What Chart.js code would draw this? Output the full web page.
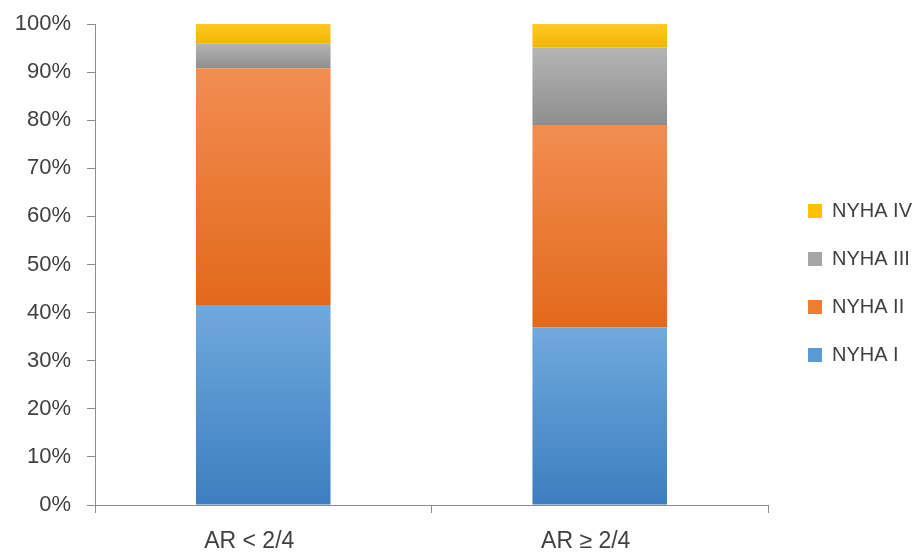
<!DOCTYPE html>
<html>
<head>
<meta charset="utf-8">
<script src="https://cdn.jsdelivr.net/npm/chart.js@4.4.1/dist/chart.umd.min.js"></script>
<style>
  html, body { margin: 0; padding: 0; background: #fff; }
  #wrap { width: 919px; height: 552px; }
</style>
</head>
<body>
<div id="wrap"><canvas id="nyhaChart" width="919" height="552"></canvas></div>
<script>
// NYHA class distribution by aortic regurgitation grade (percent of group)
const groups = ["AR < 2/4", "AR \u2265 2/4"];
const nyhaI   = [41.6, 36.9];
const nyhaII  = [49.2, 42.1];
const nyhaIII = [5.2, 16.1];
const nyhaIV  = [4.0, 4.9];
const yTicks  = [0, 10, 20, 30, 40, 50, 60, 70, 80, 90, 100];

const series = [
  { label: "NYHA I",   data: nyhaI,   light: "#70a9dd", dark: "#3c7ec0", flat: "#5b9bd5" },
  { label: "NYHA II",  data: nyhaII,  light: "#f28d52", dark: "#e2691b", flat: "#ed7d31" },
  { label: "NYHA III", data: nyhaIII, light: "#b5b5b5", dark: "#8e8e8e", flat: "#a5a5a5" },
  { label: "NYHA IV",  data: nyhaIV,  light: "#ffca24", dark: "#f2b500", flat: "#ffc000" },
];

const font = { family: "'Liberation Sans', Arial, sans-serif" };
const axisColor = "#8c8c8c";
const textColor = "#404040";

// each stacked segment gets its own top-to-bottom shade
function segmentFill(ctx, ds, di) {
  const chart = ctx.chart;
  const y = chart.scales.y;
  if (ctx.type !== "data" || !y || !chart.chartArea) return ds.flat;
  let base = 0;
  for (let k = 0; k < di; k++) base += series[k].data[ctx.dataIndex];
  const top = base + ds.data[ctx.dataIndex];
  const y0 = y.getPixelForValue(top);
  const y1 = y.getPixelForValue(base);
  if (!isFinite(y0) || !isFinite(y1) || y0 === y1) return ds.flat;
  const g = chart.ctx.createLinearGradient(0, y0, 0, y1);
  g.addColorStop(0, ds.light);
  g.addColorStop(1, ds.dark);
  return g;
}

// fixed-width legend column on the right, entries nudged away from the plot
const legendColumn = {
  id: "legendColumn",
  afterInit(chart) {
    const lg = chart.legend;
    if (!lg) return;
    const fit = lg.fit;
    lg.fit = function () {
      fit.call(this);
      this.width = 151;
    };
  },
  afterLayout(chart) {
    const lg = chart.legend;
    if (!lg) return;
    lg.left += 12;
    lg.right += 12;
    lg.top -= 5;
    lg.bottom -= 5;
  },
};

new Chart(document.getElementById("nyhaChart"), {
  type: "bar",
  data: {
    labels: groups,
    datasets: series.map((s, i) => ({
      label: s.label,
      data: s.data,
      backgroundColor: (ctx) => segmentFill(ctx, s, i),
      borderWidth: 0,
      barPercentage: 0.8,
      categoryPercentage: 0.5,
    })),
  },
  plugins: [legendColumn],
  options: {
    responsive: false,
    animation: false,
    layout: { padding: { top: 24, right: 0, left: 0, bottom: 0 } },
    plugins: {
      tooltip: { enabled: false },
      legend: {
        position: "right",
        reverse: true,
        labels: {
          generateLabels: () => series.map((s, i) => ({
            text: s.label,
            fillStyle: s.flat,
            strokeStyle: s.flat,
            lineWidth: 0,
            datasetIndex: i,
            fontColor: textColor,
          })),
          boxWidth: 14,
          boxHeight: 14,
          padding: 28,
          color: textColor,
          font: { ...font, size: 20 },
        },
      },
    },
    scales: {
      x: {
        stacked: true,
        afterFit: (s) => { s.height = 47; },
        border: { color: axisColor, width: 1 },
        grid: {
          offset: true,
          drawOnChartArea: false,
          drawTicks: true,
          tickLength: 8,
          color: axisColor,
        },
        ticks: { color: textColor, font: { ...font, size: 23 }, padding: 15, labelOffset: -14 },
      },
      y: {
        stacked: true,
        min: 0,
        max: 100,
        afterFit: (s) => {
          s.width = 95;
          s.paddingTop = 0;
          s.paddingBottom = 0;
        },
        afterBuildTicks: (axis) => { axis.ticks = yTicks.map((v) => ({ value: v })); },
        border: { color: axisColor, width: 1 },
        grid: { drawOnChartArea: false, tickLength: 8, color: axisColor },
        ticks: {
          color: textColor,
          font: { ...font, size: 22 },
          padding: 16,
          callback: (v) => v + "%",
        },
      },
    },
  },
});
</script>
</body>
</html>
